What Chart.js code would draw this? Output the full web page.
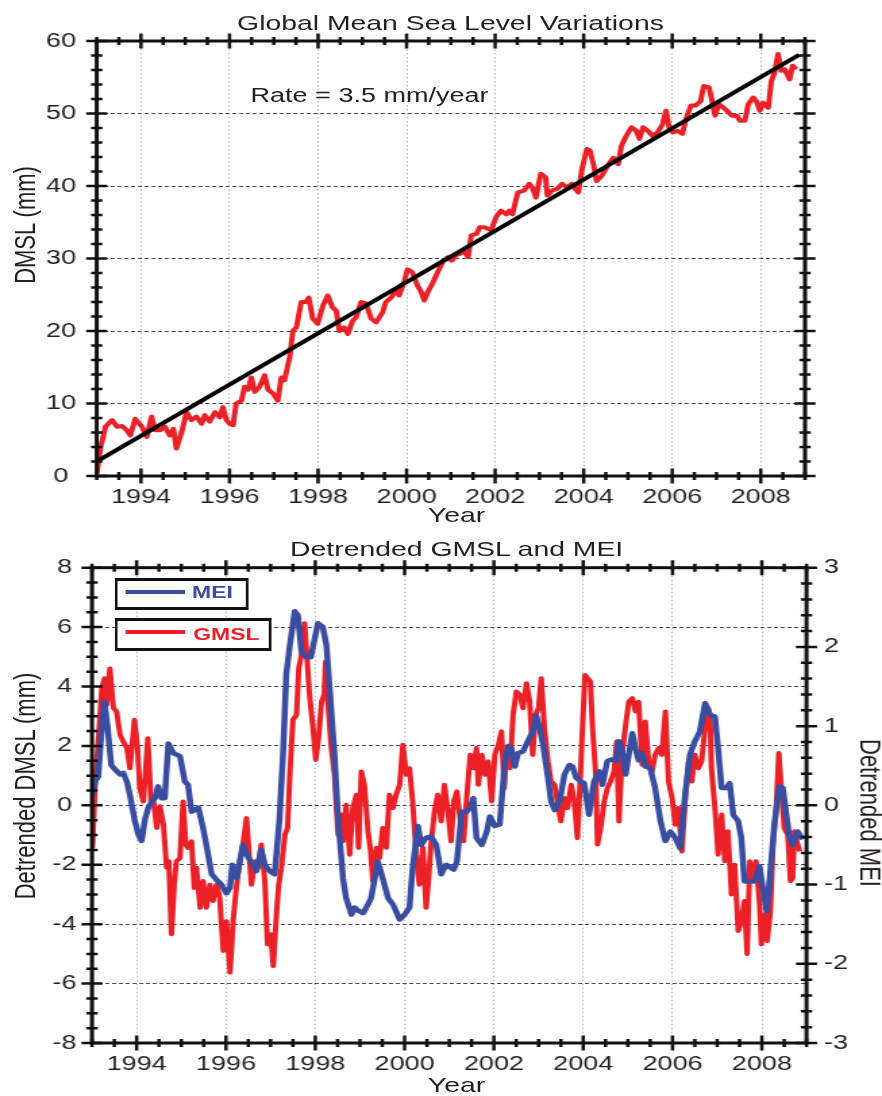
<!DOCTYPE html>
<html>
<head>
<meta charset="utf-8">
<script src="https://cdn.jsdelivr.net/npm/chart.js@4.4.1/dist/chart.umd.min.js"></script>
<style>
html,body{margin:0;padding:0;background:#fff;overflow:hidden;width:882px;height:1096px;}
#wrap{position:absolute;left:0;top:0;width:653px;height:1096px;transform:scaleX(1.350689);transform-origin:0 0;font-family:"Liberation Sans",Arial,Helvetica,sans-serif;color:#231f20;}
canvas{position:absolute;left:0;}
.t{position:absolute;white-space:nowrap;line-height:1;}
.c{transform:translateX(-50%);}
.rl{transform:translate(-50%,-50%) rotate(-90deg);}
.rr{transform:translate(-50%,-50%) rotate(90deg);}
.box{position:absolute;box-sizing:border-box;border-style:solid;border-color:#111;border-width:3px 2px;background:#fff;}
.ln{position:absolute;height:4px;}
</style>
</head>
<body>
<div id="wrap">
  <canvas id="c1" width="653" height="530" style="top:0px"></canvas>
  <canvas id="c2" width="653" height="566" style="top:530px"></canvas>

  <div class="t c" style="left:333.5px;top:11.7px;font-size:21px;">Global Mean Sea Level Variations</div>
  <div class="t" style="left:185.5px;top:85px;font-size:20px;">Rate = 3.5 mm/year</div>
  <div class="t c" style="left:338px;top:504px;font-size:21px;">Year</div>
  <div class="t rl" style="left:18.5px;top:225px;font-size:22px;">DMSL (mm)</div>

  <div class="t c" style="left:338.1px;top:538.2px;font-size:21px;">Detrended GMSL and MEI</div>
  <div class="t c" style="left:338px;top:1074px;font-size:21px;">Year</div>
  <div class="t rl" style="left:18.5px;top:786px;font-size:22px;">Detrended DMSL (mm)</div>
  <div class="t rr" style="left:643.5px;top:812.5px;font-size:22px;">Detrended MEI</div>

  <div class="box" style="left:85.2px;top:577.7px;width:98.5px;height:32.3px;"></div>
  <div class="ln" style="left:92.6px;top:589.7px;width:44.4px;background:#3a4ea1;"></div>
  <div class="t" style="left:142.2px;top:583.6px;font-size:17px;font-weight:bold;color:#3a4ea1;">MEI</div>
  <div class="box" style="left:85.2px;top:618px;width:116px;height:32.7px;"></div>
  <div class="ln" style="left:92.6px;top:629.7px;width:44.4px;background:#ec2027;"></div>
  <div class="t" style="left:143px;top:625.6px;font-size:17px;font-weight:bold;color:#ec2027;">GMSL</div>
</div>
<script>
// ---------- data ----------
const xTickYears = [1994, 1996, 1998, 2000, 2002, 2004, 2006, 2008];

const gmslYears = [1993.00,1993.09,1993.20,1993.31,1993.35,1993.46,1993.57,1993.68,1993.76,1993.87,
1994.02,1994.13,1994.24,1994.32,1994.43,1994.54,1994.65,1994.73,1994.80,1994.92,
1995.03,1995.14,1995.25,1995.37,1995.44,1995.55,1995.67,1995.78,1995.85,1995.93,
1996.00,1996.08,1996.15,1996.27,1996.34,1996.42,1996.49,1996.57,1996.68,1996.79,
1996.87,1996.98,1997.09,1997.17,1997.24,1997.36,1997.43,1997.51,1997.62,1997.73,
1997.79,1997.88,1997.99,1998.11,1998.22,1998.32,1998.41,1998.48,1998.59,1998.67,
1998.78,1998.86,1998.97,1999.08,1999.20,1999.31,1999.46,1999.53,1999.65,1999.76,
1999.83,1999.95,2000.02,2000.13,2000.25,2000.32,2000.40,2000.47,2000.58,2000.70,
2000.81,2000.94,2001.02,2001.13,2001.20,2001.28,2001.39,2001.46,2001.58,2001.65,
2001.76,2001.91,2002.02,2002.13,2002.25,2002.32,2002.39,2002.51,2002.66,2002.77,
2002.84,2002.92,2003.03,2003.14,2003.18,2003.29,2003.40,2003.51,2003.62,2003.73,
2003.81,2003.88,2003.96,2004.07,2004.14,2004.22,2004.29,2004.41,2004.52,2004.67,
2004.78,2004.85,2004.96,2005.08,2005.19,2005.26,2005.34,2005.45,2005.56,2005.67,
2005.78,2005.86,2005.93,2006.01,2006.12,2006.23,2006.30,2006.42,2006.53,2006.64,
2006.71,2006.83,2006.90,2006.97,2007.05,2007.16,2007.23,2007.35,2007.46,2007.53,
2007.64,2007.72,2007.83,2007.90,2007.98,2008.05,2008.17,2008.24,2008.31,2008.39,
2008.46,2008.54,2008.65,2008.72,2008.80];
const gmslValues = [0.3,4.0,6.8,7.5,7.7,6.8,6.9,6.3,5.6,7.9,
6.8,5.4,8.2,6.3,6.3,6.8,5.6,6.5,3.8,6.1,
8.8,7.7,8.2,7.2,8.4,7.5,8.8,8.1,9.5,7.7,
7.2,7.0,10.0,10.4,12.3,11.9,13.6,11.6,12.3,13.9,
11.9,11.4,10.4,13.6,13.2,16.4,20.0,20.5,24.0,24.0,
24.6,21.7,21.0,23.5,24.9,23.3,22.8,20.0,20.5,19.6,
21.4,21.9,24.0,23.8,21.7,21.2,22.6,24.0,24.6,25.6,
24.9,26.9,28.5,28.1,26.2,25.5,24.2,25.3,26.5,28.1,
29.5,30.2,29.7,30.6,30.6,31.1,30.2,33.2,33.4,34.3,
34.3,33.9,35.7,36.6,36.1,36.6,36.1,39.1,39.4,40.3,
39.8,38.4,41.7,41.2,38.7,39.4,39.6,40.3,39.8,40.3,
39.6,39.1,42.3,45.1,44.9,43.0,40.7,41.4,42.6,43.9,
43.0,45.5,46.9,48.1,47.6,46.5,48.1,47.6,46.9,47.4,
48.5,50.4,48.1,47.4,47.6,47.2,49.0,51.1,51.1,51.7,
53.8,53.6,51.7,49.7,51.3,50.8,50.4,49.7,49.7,49.0,
49.0,51.3,52.2,51.7,50.4,51.5,50.8,54.5,55.6,58.2,
55.9,56.1,54.7,56.6,56.1];

const trendYears = [1993.0, 2008.87];
const trendValues = [2.0, 58.1];

const meiYears = [1993.01,1993.07,1993.14,1993.22,1993.28,1993.35,1993.43,1993.52,1993.63,1993.70,
1993.78,1993.85,1993.96,1994.04,1994.11,1994.19,1994.26,1994.34,1994.41,1994.48,
1994.56,1994.63,1994.71,1994.82,1994.97,1995.08,1995.15,1995.23,1995.30,1995.38,
1995.49,1995.60,1995.68,1995.79,1995.90,1996.01,1996.09,1996.14,1996.24,1996.31,
1996.38,1996.50,1996.61,1996.68,1996.79,1996.87,1996.98,1997.09,1997.20,1997.28,
1997.35,1997.43,1997.54,1997.61,1997.69,1997.80,1997.90,1997.99,1998.06,1998.17,
1998.25,1998.36,1998.43,1998.51,1998.62,1998.69,1998.81,1998.88,1998.96,1999.07,
1999.18,1999.25,1999.40,1999.51,1999.63,1999.74,1999.89,2000.00,2000.11,2000.18,
2000.30,2000.37,2000.48,2000.59,2000.71,2000.82,2000.93,2001.10,2001.17,2001.28,
2001.39,2001.47,2001.54,2001.61,2001.73,2001.84,2001.91,2002.02,2002.13,2002.24,
2002.32,2002.39,2002.47,2002.54,2002.65,2002.76,2002.87,2002.95,2003.02,2003.10,
2003.21,2003.28,2003.36,2003.47,2003.58,2003.69,2003.76,2003.84,2003.95,2004.02,
2004.13,2004.24,2004.36,2004.43,2004.54,2004.65,2004.73,2004.80,2004.87,2004.95,
2005.02,2005.10,2005.17,2005.24,2005.32,2005.39,2005.50,2005.61,2005.73,2005.84,
2005.95,2006.06,2006.17,2006.28,2006.39,2006.50,2006.61,2006.73,2006.84,2006.95,
2007.02,2007.10,2007.21,2007.28,2007.36,2007.47,2007.54,2007.61,2007.73,2007.84,
2007.95,2008.02,2008.11,2008.21,2008.28,2008.39,2008.47,2008.54,2008.61,2008.69,
2008.80,2008.91];
const meiValues = [0.13,0.30,0.36,0.98,1.31,0.98,0.51,0.45,0.39,0.41,
0.30,0.13,-0.20,-0.37,-0.45,-0.17,-0.03,0.05,0.09,0.24,
0.09,0.09,0.78,0.66,0.62,0.30,0.26,-0.08,-0.06,-0.03,
-0.29,-0.62,-0.87,-0.94,-1.00,-1.11,-1.04,-0.75,-0.92,-0.71,
-0.50,-0.66,-0.75,-0.83,-0.56,-0.75,-0.83,-0.87,-0.16,0.68,
1.65,2.02,2.45,2.40,1.94,1.87,1.87,2.11,2.30,2.25,
2.02,1.18,0.64,-0.16,-0.92,-1.17,-1.38,-1.29,-1.33,-1.36,
-1.25,-1.17,-0.71,-0.92,-1.17,-1.25,-1.44,-1.38,-1.29,-0.79,
-0.26,-0.50,-0.41,-0.39,-0.50,-0.87,-0.75,-0.81,-0.71,-0.08,
-0.08,-0.03,0.09,-0.41,-0.50,-0.33,-0.14,-0.26,-0.24,0.51,
0.75,0.72,0.49,0.66,0.68,0.81,0.93,1.13,0.98,0.77,
0.35,0.05,-0.06,0.05,0.39,0.51,0.49,0.35,0.30,0.28,
-0.12,0.30,0.43,0.26,0.56,0.58,0.56,0.81,0.70,0.39,
0.64,0.91,0.72,0.57,0.66,0.49,0.47,0.22,-0.20,-0.45,
-0.33,-0.41,-0.54,0.13,0.64,0.81,0.93,1.29,1.14,1.12,
0.72,0.22,0.22,0.28,-0.12,-0.20,-0.41,-0.96,-0.96,-0.96,
-0.77,-1.04,-1.34,-0.71,-0.24,0.24,0.22,-0.08,-0.37,-0.50,
-0.33,-0.43];

const detYears = [1993.01,1993.07,1993.14,1993.22,1993.28,1993.33,1993.40,1993.48,1993.55,1993.63,
1993.70,1993.78,1993.85,1993.95,1994.02,1994.07,1994.15,1994.25,1994.32,1994.37,
1994.45,1994.52,1994.60,1994.67,1994.72,1994.78,1994.84,1994.89,1994.97,1995.04,
1995.10,1995.15,1995.23,1995.29,1995.34,1995.42,1995.49,1995.56,1995.64,1995.71,
1995.79,1995.86,1995.94,1996.01,1996.09,1996.16,1996.24,1996.31,1996.38,1996.46,
1996.53,1996.57,1996.65,1996.72,1996.79,1996.87,1996.93,1997.00,1997.06,1997.13,
1997.18,1997.24,1997.32,1997.38,1997.43,1997.50,1997.58,1997.63,1997.69,1997.76,
1997.82,1997.87,1997.95,1998.01,1998.08,1998.14,1998.20,1998.23,1998.28,1998.36,
1998.43,1998.51,1998.58,1998.62,1998.69,1998.77,1998.84,1998.92,1998.97,1999.03,
1999.10,1999.18,1999.24,1999.29,1999.37,1999.44,1999.51,1999.59,1999.66,1999.74,
1999.81,1999.89,1999.96,2000.04,2000.11,2000.18,2000.26,2000.33,2000.41,2000.48,
2000.54,2000.59,2000.67,2000.74,2000.82,2000.89,2000.97,2001.04,2001.10,2001.17,
2001.24,2001.32,2001.39,2001.47,2001.54,2001.61,2001.65,2001.73,2001.80,2001.87,
2001.95,2002.02,2002.10,2002.17,2002.23,2002.28,2002.36,2002.43,2002.50,2002.58,
2002.65,2002.73,2002.80,2002.87,2002.93,2003.00,2003.06,2003.13,2003.21,2003.28,
2003.36,2003.43,2003.50,2003.58,2003.65,2003.73,2003.80,2003.87,2003.93,2003.99,
2004.04,2004.10,2004.16,2004.21,2004.28,2004.32,2004.39,2004.47,2004.54,2004.61,
2004.69,2004.75,2004.80,2004.87,2004.95,2005.02,2005.10,2005.17,2005.24,2005.32,
2005.39,2005.47,2005.54,2005.61,2005.69,2005.76,2005.84,2005.91,2005.99,2006.06,
2006.13,2006.21,2006.28,2006.36,2006.43,2006.50,2006.58,2006.65,2006.73,2006.80,
2006.84,2006.87,2006.95,2007.02,2007.10,2007.17,2007.24,2007.32,2007.39,2007.47,
2007.54,2007.61,2007.67,2007.73,2007.80,2007.87,2007.95,2007.99,2008.06,2008.12,
2008.19,2008.25,2008.32,2008.38,2008.43,2008.50,2008.58,2008.64,2008.69,2008.73,
2008.80,2008.85];
const detValues = [-1.43,0.70,2.15,3.94,4.28,3.38,4.61,3.27,3.16,2.37,
2.15,1.93,1.25,2.88,1.93,0.58,0.13,2.26,0.13,0.25,
-0.76,-0.03,-0.65,-2.10,-1.88,-4.34,-2.67,-1.88,-1.77,0.13,
-1.32,-1.43,-1.21,-2.78,-2.10,-3.45,-2.55,-3.45,-2.67,-3.22,
-2.67,-3.11,-4.90,-3.90,-5.63,-3.90,-2.67,-1.88,-1.32,-0.43,
-1.88,-2.67,-1.88,-2.10,-1.32,-2.55,-4.68,-4.34,-5.41,-3.67,
-2.67,-2.10,-0.99,-0.76,1.03,2.88,3.05,4.61,5.06,6.13,
4.84,3.72,2.60,1.53,2.37,3.49,3.72,4.84,3.49,1.93,
1.03,-0.99,-0.31,-1.21,0.02,-1.66,-0.09,0.36,-1.43,1.14,
0.69,-0.87,-1.55,-2.55,-1.43,-1.77,-0.76,-1.43,0.36,-0.09,
0.36,0.69,2.04,1.03,1.25,0.13,-1.66,-2.67,-1.43,-3.45,
-2.44,-1.32,-0.20,0.36,-0.54,0.69,-0.20,-1.21,0.13,0.47,
-0.43,-1.21,0.25,1.70,1.25,1.93,0.69,1.70,1.03,1.48,
0.13,1.70,2.04,2.49,0.58,1.70,1.25,3.05,3.83,3.72,
3.27,4.11,3.49,1.70,3.05,3.27,4.28,2.60,1.48,0.80,
0.69,0.02,-0.54,0.25,-0.09,0.69,0.13,-1.10,0.80,2.82,
4.39,4.28,4.17,2.60,1.03,-1.32,-0.76,0.13,0.58,0.80,
1.14,2.15,-0.54,1.70,2.71,3.49,3.61,3.16,3.49,1.37,
2.82,1.37,1.14,1.70,1.93,1.70,3.16,0.80,0.25,-0.65,
-0.09,-1.55,0.13,1.48,0.80,1.70,1.25,1.48,2.60,3.27,
3.05,1.25,-0.09,-1.66,-0.31,-1.88,-0.87,-3.00,-2.00,-4.23,
-3.90,-3.22,-5.00,-1.88,-2.44,-1.88,-3.34,-4.68,-3.67,-4.57,
-3.56,-1.32,-0.09,1.76,0.69,-0.76,-0.99,-2.55,-2.44,-0.87,
-1.32,-1.55];

// ---------- styling ----------
const RED = '#ec2027', BLUE = '#3a4ea1', INK = '#231f20';
Chart.defaults.font.family = '"Liberation Sans", Arial, Helvetica, sans-serif';
Chart.defaults.color = INK;

const pts = (xs, ys) => xs.map((x, i) => ({x: x, y: ys[i]}));

function frameTicks(cfg) {
  return {
    id: 'frameTicks',
    afterDatasetsDraw(chart) {
      const ctx = chart.ctx, a = chart.chartArea, sc = chart.scales;
      ctx.save();
      ctx.strokeStyle = '#111';
      ctx.lineWidth = 2.5;
      ctx.beginPath();
      const xs = sc.x;
      const nx = Math.round((xs.max - xs.min) / cfg.xMinor);
      for (let i = 0; i <= nx; i++) {
        const v = xs.min + i * cfg.xMinor;
        const r = v / cfg.xMajor;
        const L = Math.abs(r - Math.round(r)) < 1e-6 ? 7.5 : 4;
        const px = xs.getPixelForValue(v);
        ctx.moveTo(px, a.bottom - L); ctx.lineTo(px, a.bottom + L);
        ctx.moveTo(px, a.top - L); ctx.lineTo(px, a.top + L);
      }
      cfg.sides.forEach(s => {
        const ys = sc[s.scale];
        const edge = s.side === 'left' ? a.left : a.right;
        const ny = Math.round((ys.max - ys.min) / s.minor);
        for (let i = 0; i <= ny; i++) {
          const v = ys.min + i * s.minor;
          const r = v / s.major;
          const L = Math.abs(r - Math.round(r)) < 1e-6 ? 7.8 : 4.2;
          const py = ys.getPixelForValue(v);
          ctx.moveTo(edge - L, py); ctx.lineTo(edge + L, py);
        }
      });
      ctx.stroke();
      ctx.lineWidth = 3;
      ctx.strokeRect(a.left, a.top, a.right - a.left, a.bottom - a.top);
      ctx.restore();
    }
  };
}

function xScale(h) {
  return {
    type: 'linear', min: 1993, max: 2009,
    afterBuildTicks: s => { s.ticks = xTickYears.map(v => ({value: v})); },
    afterFit: s => { s.height = h; },
    ticks: { callback: v => String(v), font: {size: 20}, padding: 9.5, maxRotation: 0, minRotation: 0, autoSkip: false, color: INK },
    grid: { color: '#b4b4b4', lineWidth: 1, drawTicks: false },
    border: { display: false, dash: [1.5, 2.5] }
  };
}

// ---------- top chart ----------
new Chart(document.getElementById('c1'), {
  type: 'line',
  data: {
    datasets: [
      { label: 'Trend', data: pts(trendYears, trendValues), borderColor: '#000', borderWidth: 3.8, pointRadius: 0, tension: 0 },
      { label: 'GMSL', data: pts(gmslYears, gmslValues), borderColor: RED, borderWidth: 4, pointRadius: 0, tension: 0, borderJoinStyle: 'round' }
    ]
  },
  options: {
    responsive: false, animation: false, devicePixelRatio: 1,
    layout: { padding: { top: 41, right: 57, left: 0, bottom: 0 } },
    plugins: { legend: { display: false }, tooltip: { enabled: false }, title: { display: false } },
    scales: {
      x: xScale(54),
      y: {
        min: 0, max: 60,
        afterFit: s => { s.width = 71.6; },
        ticks: { stepSize: 10, font: {size: 20}, padding: 15.3, crossAlign: 'center', color: INK },
        grid: { color: '#4a4a4a', lineWidth: 1, drawTicks: false },
        border: { display: false, dash: [3, 2] }
      }
    }
  },
  plugins: [frameTicks({ xMinor: 0.5, xMajor: 2, sides: [
    { scale: 'y', side: 'left', minor: 2, major: 10 },
    { scale: 'y', side: 'right', minor: 2, major: 10 }
  ]})]
});

// ---------- bottom chart ----------
new Chart(document.getElementById('c2'), {
  type: 'line',
  data: {
    datasets: [
      { label: 'MEI', data: pts(meiYears, meiValues), yAxisID: 'y1', borderColor: BLUE, borderWidth: 4.5, pointRadius: 0, tension: 0, borderJoinStyle: 'round' },
      { label: 'GMSL', data: pts(detYears, detValues), yAxisID: 'y', borderColor: RED, borderWidth: 4, pointRadius: 0, tension: 0, borderJoinStyle: 'round' }
    ]
  },
  options: {
    responsive: false, animation: false, devicePixelRatio: 1,
    layout: { padding: { top: 37.7, right: 0, left: 0, bottom: 0 } },
    plugins: { legend: { display: false }, tooltip: { enabled: false }, title: { display: false } },
    scales: {
      x: xScale(53),
      y: {
        position: 'left', min: -8, max: 8,
        afterFit: s => { s.width = 68.1; },
        ticks: { stepSize: 2, font: {size: 20}, padding: 11.5, crossAlign: 'center', color: INK },
        grid: { color: '#4a4a4a', lineWidth: 1, drawTicks: false },
        border: { display: false, dash: [3, 2] }
      },
      y1: {
        position: 'right', min: -3, max: 3,
        afterFit: s => { s.width = 55.9; },
        ticks: { stepSize: 1, font: {size: 20}, padding: 13, color: INK },
        grid: { display: false, drawTicks: false },
        border: { display: false }
      }
    }
  },
  plugins: [frameTicks({ xMinor: 0.5, xMajor: 2, sides: [
    { scale: 'y', side: 'left', minor: 0.5, major: 2 },
    { scale: 'y1', side: 'right', minor: 0.2, major: 1 }
  ]})]
});
</script>
</body>
</html>
